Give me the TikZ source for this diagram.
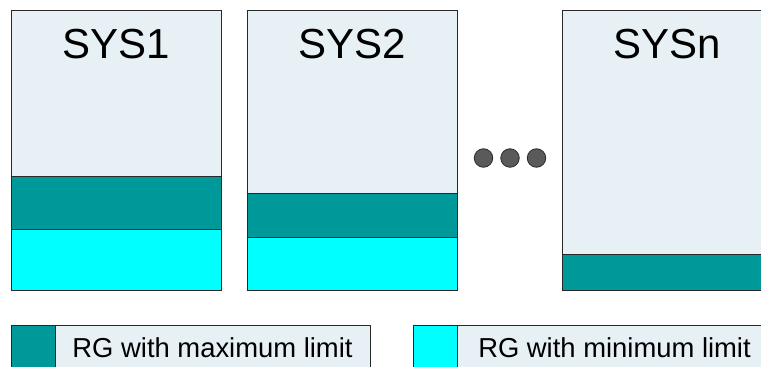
\documentclass[tikz,border=0pt]{standalone}
\usepackage{fontspec}
\setmainfont{Liberation Sans}
\definecolor{paleblue}{RGB}{230,240,245}
\definecolor{rgteal}{RGB}{0,153,153}
\definecolor{rgcyan}{RGB}{0,255,255}
\definecolor{dotgray}{RGB}{90,90,90}
\definecolor{edgegray}{RGB}{40,40,40}
\begin{document}
\begin{tikzpicture}[x=1pt,y=-1pt,
  boxline/.style={draw=edgegray,line width=0.9pt},
  sysbox/.style={boxline,fill=paleblue},
  maxband/.style={boxline,fill=rgteal},
  minband/.style={boxline,fill=rgcyan},
  systitle/.style={anchor=base,inner sep=0pt,font=\fontsize{42}{48}\selectfont},
  legtext/.style={anchor=base,inner sep=0pt,font=\fontsize{27.4}{32}\selectfont},
  dotmark/.style={circle,draw=edgegray,fill=dotgray,line width=0.8pt,minimum size=18.5pt,inner sep=0pt}]
\useasboundingbox (0,0) rectangle (761,367);
\clip (0,0) rectangle (761,367);
\fill[white] (0,0) rectangle (761,367);
% SYS1
\draw[sysbox] (11,10) rectangle (221,290);
\draw[maxband] (11,176) rectangle (221,229);
\draw[minband] (11,229) rectangle (221,290);
\node[systitle] (t1) at (116,58) {SYS1};
% SYS2
\draw[sysbox] (247,10) rectangle (457,290);
\draw[maxband] (247,193) rectangle (457,237);
\draw[minband] (247,237) rectangle (457,290);
\node[systitle] (t2) at (352,58) {SYS2};
% SYSn
\draw[sysbox] (562,10) rectangle (772,290);
\draw[maxband] (562,254) rectangle (772,290);
\node[systitle] (tn) at (667,58) {SYSn};
% dots
\node[dotmark] (d1) at (483.5,158) {};
\node[dotmark] (d2) at (510,158) {};
\node[dotmark] (d3) at (536.5,158) {};
% legend
\draw[sysbox] (11,325) rectangle (370,380);
\draw[maxband] (11,325) rectangle (55,380);
\node[legtext] (l1) at (212.5,357) {RG with maximum limit};
\draw[sysbox] (413,325) rectangle (772,380);
\draw[minband] (413,325) rectangle (457,380);
\node[legtext] (l2) at (614.5,357) {RG with minimum limit};
\end{tikzpicture}
\end{document}
